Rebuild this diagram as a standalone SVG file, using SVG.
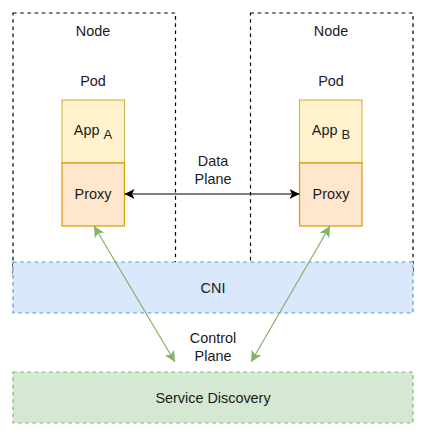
<svg xmlns="http://www.w3.org/2000/svg" width="427" height="437" viewBox="0 0 427 437">
<style>
text{font-family:"Liberation Sans",Arial,sans-serif;font-size:14.4px;fill:#1a1a1a;text-anchor:middle}
.node{fill:#ffffff;stroke:#000000;stroke-width:1.2;stroke-dasharray:3.6 3.6}
.cni{fill:#dae8fc;stroke:#6c8ebf;stroke-width:1.2;stroke-dasharray:3.6 3.6}
.sd{fill:#d5e8d4;stroke:#82b366;stroke-width:1.2;stroke-dasharray:3.6 3.6}
.app{fill:#fff2cc;stroke:#d6b656;stroke-width:1.2}
.proxy{fill:#ffe6cc;stroke:#d79b00;stroke-width:1.2}
.sub{font-size:13px}
</style>
<defs>
<marker id="ab" viewBox="0 0 10 10" refX="10" refY="5" markerWidth="10" markerHeight="10" markerUnits="userSpaceOnUse" orient="auto-start-reverse"><path d="M0,0 L10,5 L0,10 L2.5,5 Z" fill="#000"/></marker>
<marker id="ag" viewBox="0 0 10 10" refX="10" refY="5" markerWidth="11" markerHeight="11" markerUnits="userSpaceOnUse" orient="auto-start-reverse"><path d="M0,0 L10,5 L0,10 L2.5,5 Z" fill="#82b366"/></marker>
</defs>
<g id="node-a">
<rect class="node" x="13" y="13" width="162.5" height="260"/>
<text x="93" y="36">Node</text>
<text x="93" y="86">Pod</text>
</g>
<g id="node-b">
<rect class="node" x="250.5" y="13" width="162.5" height="260"/>
<text x="331" y="36">Node</text>
<text x="331" y="86">Pod</text>
</g>
<g id="cni">
<rect class="cni" x="13" y="262" width="400" height="51"/>
<text x="213" y="293">CNI</text>
</g>
<g id="service-discovery">
<rect class="sd" x="13" y="372" width="400" height="51"/>
<text x="213" y="403">Service Discovery</text>
</g>
<g id="app-a">
<rect class="app" x="62" y="100" width="62.5" height="63"/>
<text x="93" y="135">App <tspan class="sub" dy="4">A</tspan></text>
</g>
<g id="proxy-a">
<rect class="proxy" x="62" y="163" width="62.5" height="63"/>
<text x="93" y="199">Proxy</text>
</g>
<g id="app-b">
<rect class="app" x="299.5" y="100" width="62.5" height="63"/>
<text x="331" y="135">App <tspan class="sub" dy="4">B</tspan></text>
</g>
<g id="proxy-b">
<rect class="proxy" x="299.5" y="163" width="62.5" height="63"/>
<text x="331" y="199">Proxy</text>
</g>
<g id="connectors">
<line x1="124.5" y1="194" x2="299.5" y2="194" stroke="#000" stroke-width="1.2" marker-start="url(#ab)" marker-end="url(#ab)"/>
<line x1="94" y1="226" x2="175" y2="362" stroke="#82b366" stroke-width="1.2" marker-start="url(#ag)" marker-end="url(#ag)"/>
<line x1="330" y1="226" x2="251" y2="362" stroke="#82b366" stroke-width="1.2" marker-start="url(#ag)" marker-end="url(#ag)"/>
<rect x="192" y="150" width="42" height="38" fill="#fff"/>
<text x="213" y="166">Data</text>
<text x="213" y="184">Plane</text>
<text x="213" y="343">Control</text>
<text x="213" y="361">Plane</text>
</g>
</svg>
